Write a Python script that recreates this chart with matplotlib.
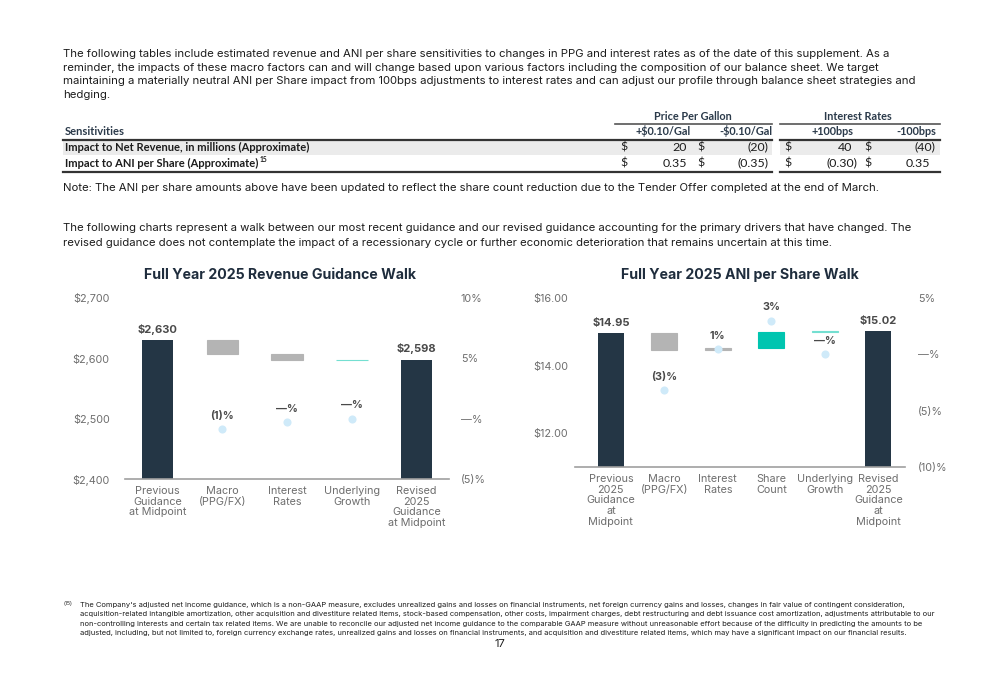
import numpy as np
import matplotlib
matplotlib.use("Agg")
import matplotlib.pyplot as plt
from matplotlib.patches import Rectangle

plt.rcParams['font.family'] = ['Inter', 'DejaVu Sans']

# ---- data ----
intro_lines = [
    "The following tables include estimated revenue and ANI per share sensitivities to changes in PPG and interest rates as of the date of this supplement. As a",
    "reminder, the impacts of these macro factors can and will change based upon various factors including the composition of our balance sheet. We target",
    "maintaining a materially neutral ANI per Share impact from 100bps adjustments to interest rates and can adjust our profile through balance sheet strategies and",
    "hedging.",
]
note_line = "Note: The ANI per share amounts above have been updated to reflect the share count reduction due to the Tender Offer completed at the end of March."
walk_lines = [
    "The following charts represent a walk between our most recent guidance and our revised guidance accounting for the primary drivers that have changed. The",
    "revised guidance does not contemplate the impact of a recessionary cycle or further economic deterioration that remains uncertain at this time.",
]
footnote_lines = [
    "The Company's adjusted net income guidance, which is a non-GAAP measure, excludes unrealized gains and losses on financial instruments, net foreign currency gains and losses, changes in fair value of contingent consideration,",
    "acquisition-related intangible amortization, other acquisition and divestiture related items, stock-based compensation, other costs, impairment charges, debt restructuring and debt issuance cost amortization, adjustments attributable to our",
    "non-controlling interests and certain tax related items. We are unable to reconcile our adjusted net income guidance to the comparable GAAP measure without unreasonable effort because of the difficulty in predicting the amounts to be",
    "adjusted, including, but not limited to, foreign currency exchange rates, unrealized gains and losses on financial instruments, and acquisition and divestiture related items, which may have a significant impact on our financial results.",
]

group_headers = ["Price Per Gallon", "Interest Rates"]
col_headers = ["+$0.10/Gal", "-$0.10/Gal", "+100bps", "-100bps"]
row_labels = ["Impact to Net Revenue, in millions (Approximate)", "Impact to ANI per Share (Approximate)"]
revenue_sens = ["20", "(20)", "40", "(40)"]
ani_sens = ["0.35", "(0.35)", "(0.30)", "0.35"]

rev_cats = ["Previous\nGuidance\nat Midpoint", "Macro\n(PPG/FX)", "Interest\nRates",
            "Underlying\nGrowth", "Revised\n2025\nGuidance\nat Midpoint"]
rev_start = 2630
rev_steps = [-23, -10, 1]
rev_end = 2598
rev_pct = [-0.85, -0.3, 0.0]
rev_pct_labels = ["(1)%", "—%", "—%"]

ani_cats = ["Previous\n2025\nGuidance\nat\nMidpoint", "Macro\n(PPG/FX)", "Interest\nRates", "Share\nCount",
            "Underlying\nGrowth", "Revised\n2025\nGuidance\nat\nMidpoint"]
ani_start = 14.95
ani_steps = [-0.50, 0.08, 0.46, 0.03]
ani_end = 15.02
ani_pct = [-3.2, 0.5, 3.0, 0.0]
ani_pct_labels = ["(3)%", "1%", "3%", "—%"]

# ---- styles ----
NAVY = "#243645"
GRAY = "#b4b4b4"
TEAL = "#00c5b0"
TEAL_LT = "#74dfd1"
DOT = "#cfeaf9"
TICK = "#6e6e6e"
LABEL = "#4a4a4a"
TITLE = "#1f2d3d"
BODY = "#1c1c1c"
HEAD = "#2b3a4a"
TFONT = ['Lato', 'DejaVu Sans']

W, H = 1000, 685
fig = plt.figure(figsize=(W / 100, H / 100), dpi=100)
renderer = fig.canvas.get_renderer()

bg = fig.add_axes([0, 0, 1, 1])
bg.set_xlim(0, W)
bg.set_ylim(H, 0)
bg.axis('off')


def fit(s, width, weight='normal', family=None):
    kw = {'family': family} if family else {}
    t = bg.text(0, 0, s, fontsize=10, fontweight=weight, **kw)
    w = t.get_window_extent(renderer).width
    t.remove()
    return 10 * width / w


# paragraphs
body_size = fit(intro_lines[0], 830)
for i, line in enumerate(intro_lines):
    bg.text(63, 54 + i * 13.7, line, fontsize=body_size, color=BODY, va='center')
bg.text(63, 188, note_line, fontsize=body_size, color=BODY, va='center')
for i, line in enumerate(walk_lines):
    bg.text(63, 228 + i * 15, line, fontsize=body_size, color=BODY, va='center')

# table
tsize = fit(row_labels[0], 243, 'bold', TFONT)
hsize = fit(group_headers[0], 78, 'bold', TFONT)
nsize = fit("(0.30)", 31, 'normal', TFONT)
bg.add_patch(Rectangle((63, 140), 709, 15, color="#ebebeb", lw=0))
bg.add_patch(Rectangle((780, 140), 160, 15, color="#ebebeb", lw=0))
for x0, x1 in [(615, 772), (780, 940)]:
    bg.plot([x0, x1], [124, 124], color="#555555", lw=1.2)
for x0, x1 in [(63, 772), (780, 940)]:
    bg.plot([x0, x1], [139.5, 139.5], color="#333333", lw=1.6)
    bg.plot([x0, x1], [171.5, 171.5], color="#333333", lw=1.6)

for cx, s in zip([693, 858], group_headers):
    bg.text(cx, 116, s, fontsize=hsize, family=TFONT, fontweight='bold', color=HEAD, ha='center', va='center')
for cx, s in zip([663, 746, 833, 916], col_headers):
    bg.text(cx, 131, s, fontsize=hsize, family=TFONT, fontweight='bold', color=HEAD, ha='center', va='center')
bg.text(65, 131, "Sensitivities", fontsize=tsize, family=TFONT, fontweight='bold', color=HEAD, va='center')

dollar_x = [620, 697, 784, 864]
num_right = [687, 763, 852, 930]
label_ends = []
for ry, label, vals in zip([147, 163], row_labels, [revenue_sens, ani_sens]):
    t = bg.text(65, ry, label, fontsize=tsize, family=TFONT, fontweight='bold', color=BODY, va='center')
    label_ends.append(65 + t.get_window_extent(renderer).width)
    for dx, nr, v in zip(dollar_x, num_right, vals):
        bg.text(dx, ry, "$", fontsize=nsize, family=TFONT, color=BODY, va='center')
        xr = nr + 5 if v.endswith(")") else nr
        bg.text(xr, ry, v, fontsize=nsize, family=TFONT, color=BODY, ha='right', va='center')
bg.text(label_ends[1] + 1.5, 159.5, "15", fontsize=tsize * 0.6, family=TFONT, fontweight='bold',
        color=BODY, va='center')

# footnote
fsize = fit(footnote_lines[1], 857)
bg.text(63, 603, "(15)", fontsize=fsize * 0.7, color=BODY, va='center')
for i, line in enumerate(footnote_lines):
    bg.text(80, 605 + i * 9.3, line, fontsize=fsize, color=BODY, va='center')
bg.text(500, 644, "17", fontsize=8, color=BODY, ha='center', va='center')


def walk(rect, cats, start, steps, end, pct, pct_labels, step_colors, ylim, yticks, yfmt,
         plim, pticks, plabels, xlim, lpad, rpad, start_label, end_label, title, title_x):
    ax = fig.add_axes(rect)
    x = np.arange(len(cats))
    width = 0.49
    ax.bar(x[0], start, width=width, color=NAVY, zorder=2)
    level = start
    for i, (st, c) in enumerate(zip(steps, step_colors)):
        lo = min(level, level + st)
        ax.bar(x[i + 1], abs(st), bottom=lo, width=width, color=c, edgecolor=c, lw=0.8, zorder=2)
        level += st
    ax.bar(x[-1], end, width=width, color=NAVY, zorder=2)
    ax.annotate(start_label, (x[0], start), xytext=(0, 4), textcoords='offset points',
                ha='center', va='bottom', fontsize=8, fontweight='bold', color=LABEL)
    ax.annotate(end_label, (x[-1], end), xytext=(0, 4), textcoords='offset points',
                ha='center', va='bottom', fontsize=8, fontweight='bold', color=LABEL)
    ax.set_xlim(xlim)
    ax.set_ylim(ylim)
    ax.set_yticks(yticks)
    ax.set_yticklabels([yfmt.format(v) for v in yticks])
    ax.set_xticks(x)
    ax.set_xticklabels(cats, linespacing=1.08)
    ax.tick_params(axis='both', length=0, labelsize=7.8, colors=TICK)
    ax.tick_params(axis='y', pad=lpad)
    ax.tick_params(axis='x', pad=5)
    for s in ['top', 'left', 'right']:
        ax.spines[s].set_visible(False)
    ax.spines['bottom'].set_color("#a0a0a0")
    ax.spines['bottom'].set_linewidth(1.2)

    ax2 = ax.twinx()
    ax2.set_ylim(plim)
    ax2.set_yticks(pticks)
    ax2.set_yticklabels(plabels)
    ax2.tick_params(axis='y', length=0, labelsize=7.8, colors=TICK, pad=rpad)
    for s in ax2.spines.values():
        s.set_visible(False)
    ax2.scatter(x[1:-1], pct, s=34, color=DOT, zorder=3, lw=0)
    for xi, p, lab in zip(x[1:-1], pct, pct_labels):
        ax2.annotate(lab, (xi, p), xytext=(0, 9.5), textcoords='offset points', ha='center',
                     va='center', fontsize=7.8, fontweight='bold', color=LABEL)
    fig.text(title_x / W, 1 - 275 / H, title, ha='center', va='center', fontsize=10.2,
             fontweight='bold', color=TITLE)
    return ax


walk([0.125, 1 - 479 / H, 0.324, 181 / H], rev_cats, rev_start, rev_steps, rev_end,
     rev_pct, rev_pct_labels, [GRAY, GRAY, TEAL_LT], (2400, 2700), [2400, 2500, 2600, 2700], "${:,.0f}",
     (-5, 10), [-5, 0, 5, 10], ["(5)%", "—%", "5%", "10%"], (-0.504, 4.5), 11, 8.5,
     "$2,630", "$2,598", "Full Year 2025 Revenue Guidance Walk", 280)

walk([0.575, 1 - 467 / H, 0.330, 169 / H], ani_cats, ani_start, ani_steps, ani_end,
     ani_pct, ani_pct_labels, [GRAY, GRAY, TEAL, TEAL_LT], (11, 16), [12, 14, 16], "${:.2f}",
     (-10, 5), [-10, -5, 0, 5], ["(10)%", "(5)%", "—%", "5%"], (-0.67, 5.5), 5, 9.4,
     "$14.95", "$15.02", "Full Year 2025 ANI per Share Walk", 740)

fig.savefig("out.png", dpi=100)
